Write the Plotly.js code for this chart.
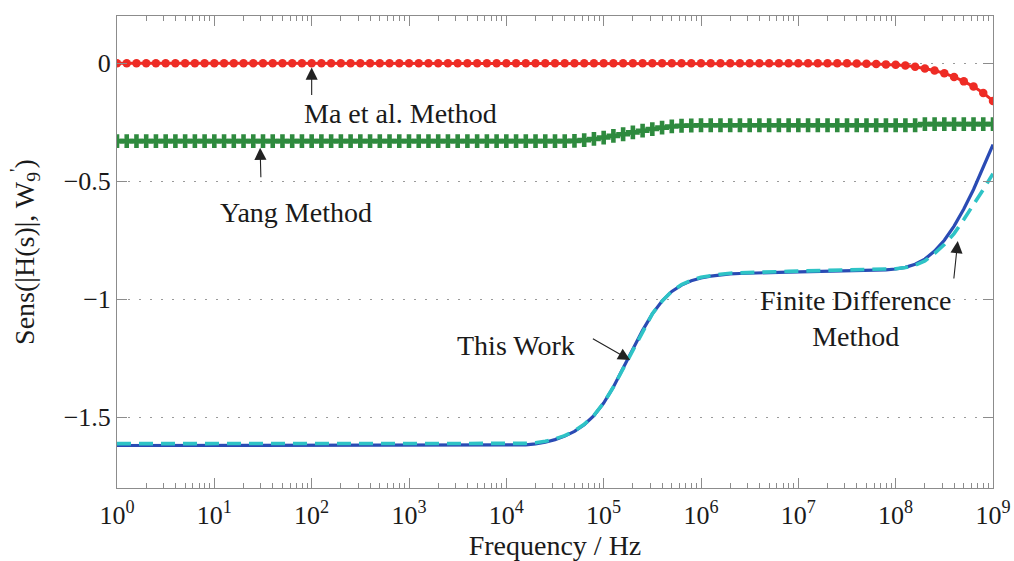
<!DOCTYPE html>
<html>
<head>
<meta charset="utf-8">
<script src="https://cdn.plot.ly/plotly-3.0.1.min.js"></script>
<style>
  html, body { margin: 0; padding: 0; background: #ffffff; }
  #chart { width: 1014px; height: 561px; }
</style>
</head>
<body>
<div id="chart"></div>
<script>
// Frequency grid, as decade exponents (f = 10^exp Hz), ten points per decade
const freqExp = [
  0.0, 0.1, 0.2, 0.3, 0.4, 0.5, 0.6, 0.7, 0.8, 0.9,
  1.0, 1.1, 1.2, 1.3, 1.4, 1.5, 1.6, 1.7, 1.8, 1.9,
  2.0, 2.1, 2.2, 2.3, 2.4, 2.5, 2.6, 2.7, 2.8, 2.9,
  3.0, 3.1, 3.2, 3.3, 3.4, 3.5, 3.6, 3.7, 3.8, 3.9,
  4.0, 4.1, 4.2, 4.3, 4.4, 4.5, 4.6, 4.7, 4.8, 4.9,
  5.0, 5.1, 5.2, 5.3, 5.4, 5.5, 5.6, 5.7, 5.8, 5.9,
  6.0, 6.1, 6.2, 6.3, 6.4, 6.5, 6.6, 6.7, 6.8, 6.9,
  7.0, 7.1, 7.2, 7.3, 7.4, 7.5, 7.6, 7.7, 7.8, 7.9,
  8.0, 8.1, 8.2, 8.3, 8.4, 8.5, 8.6, 8.7, 8.8, 8.9,
  9.0
];

// Ma et al. method
const sensMa = [
  0, 0, 0, 0, 0, 0, 0, 0, 0, 0,
  0, 0, 0, 0, 0, 0, 0, 0, 0, 0,
  0, 0, 0, 0, 0, 0, 0, 0, 0, 0,
  0, 0, 0, 0, 0, 0, 0, 0, 0, 0,
  0, 0, 0, 0, 0, 0, 0, 0, 0, 0,
  0, 0, 0, 0, 0, 0, 0, 0, 0, 0,
  0, 0, 0, 0, 0, 0, 0, 0, 0, 0,
  0, 0, 0, 0, 0, 0, -0.001, -0.002, -0.003, -0.005,
  -0.007, -0.010, -0.015, -0.022, -0.031, -0.043, -0.058, -0.077, -0.099, -0.126,
  -0.160
];

// Yang method
const sensYang = [
  -0.330, -0.330, -0.330, -0.330, -0.330, -0.330, -0.330, -0.330, -0.330, -0.330,
  -0.330, -0.330, -0.330, -0.330, -0.330, -0.330, -0.330, -0.330, -0.330, -0.330,
  -0.330, -0.330, -0.330, -0.330, -0.330, -0.330, -0.330, -0.330, -0.330, -0.330,
  -0.330, -0.330, -0.330, -0.330, -0.330, -0.330, -0.330, -0.330, -0.330, -0.330,
  -0.330, -0.330, -0.330, -0.330, -0.330, -0.330, -0.330, -0.329, -0.326, -0.321,
  -0.315, -0.308, -0.301, -0.293, -0.286, -0.279, -0.273, -0.268, -0.265, -0.264,
  -0.263, -0.263, -0.263, -0.263, -0.263, -0.263, -0.263, -0.263, -0.263, -0.263,
  -0.263, -0.263, -0.263, -0.263, -0.263, -0.263, -0.263, -0.263, -0.263, -0.263,
  -0.263, -0.263, -0.263, -0.258, -0.258, -0.258, -0.258, -0.258, -0.258, -0.258,
  -0.258
];

// This work
const sensThisWork = [
  -1.620, -1.620, -1.620, -1.620, -1.620, -1.620, -1.620, -1.620, -1.620, -1.620,
  -1.620, -1.620, -1.620, -1.620, -1.620, -1.620, -1.620, -1.620, -1.620, -1.620,
  -1.620, -1.620, -1.620, -1.620, -1.620, -1.620, -1.620, -1.620, -1.620, -1.620,
  -1.620, -1.620, -1.620, -1.620, -1.620, -1.620, -1.620, -1.620, -1.620, -1.620,
  -1.620, -1.619, -1.617, -1.613, -1.606, -1.595, -1.580, -1.560, -1.532, -1.493,
  -1.440, -1.372, -1.294, -1.212, -1.132, -1.062, -1.008, -0.967, -0.940, -0.922,
  -0.910, -0.902, -0.897, -0.893, -0.891, -0.889, -0.888, -0.887, -0.886, -0.885,
  -0.884, -0.884, -0.883, -0.883, -0.882, -0.882, -0.881, -0.880, -0.878, -0.876,
  -0.872, -0.865, -0.852, -0.830, -0.796, -0.750, -0.690, -0.618, -0.535, -0.443,
  -0.345
];

// Finite difference method
const sensFiniteDiff = [
  -1.612, -1.612, -1.612, -1.612, -1.612, -1.612, -1.612, -1.612, -1.612, -1.612,
  -1.612, -1.612, -1.612, -1.612, -1.612, -1.612, -1.612, -1.612, -1.612, -1.612,
  -1.612, -1.612, -1.612, -1.612, -1.612, -1.612, -1.612, -1.612, -1.612, -1.612,
  -1.612, -1.612, -1.612, -1.612, -1.612, -1.612, -1.612, -1.612, -1.612, -1.612,
  -1.612, -1.612, -1.611, -1.608, -1.602, -1.592, -1.578, -1.558, -1.530, -1.492,
  -1.440, -1.372, -1.294, -1.212, -1.132, -1.062, -1.008, -0.966, -0.938, -0.920,
  -0.907, -0.899, -0.894, -0.890, -0.888, -0.886, -0.885, -0.884, -0.883, -0.882,
  -0.881, -0.881, -0.880, -0.880, -0.879, -0.879, -0.878, -0.877, -0.876, -0.874,
  -0.871, -0.866, -0.856, -0.838, -0.806, -0.768, -0.722, -0.662, -0.600, -0.535,
  -0.468
];

// Axis ticks
const xTickExp = [0, 1, 2, 3, 4, 5, 6, 7, 8, 9];
const xTickText = xTickExp.map(e => '10<sup>' + e + '</sup>');
const yTickVals = [0, -0.5, -1, -1.5];
const yTickText = ['0', '\u22120.5', '\u22121', '\u22121.5'];

const freqHz = freqExp.map(e => Math.pow(10, e));
const xTickVals = xTickExp.map(e => Math.pow(10, e));
const xMinorVals = [];
for (let d = 0; d < 9; d++) {
  for (let m = 2; m <= 9; m++) xMinorVals.push(m * Math.pow(10, d));
}

const serif = '"Liberation Serif", "Times New Roman", Times, serif';
const ink = '#1a1a1a';
const axisGray = '#8c8c8c';

const traces = [
  {
    x: freqHz, y: sensThisWork, type: 'scatter', mode: 'lines', name: 'This Work',
    line: { color: '#2a4bb4', width: 3.2 }
  },
  {
    x: freqHz, y: sensFiniteDiff, type: 'scatter', mode: 'lines', name: 'Finite Difference Method',
    line: { color: '#2ec3c6', width: 3.6, dash: '14px,8px' }
  },
  {
    x: freqHz, y: sensYang, type: 'scatter', mode: 'lines+markers', name: 'Yang Method',
    line: { color: '#2e8a3e', width: 3 },
    marker: { symbol: 'cross', size: 11.5, color: '#2e8a3e' }
  },
  {
    x: freqHz, y: sensMa, type: 'scatter', mode: 'lines+markers', name: 'Ma et al. Method',
    line: { color: '#ee2c25', width: 3 },
    marker: { symbol: 'circle', size: 8.5, color: '#ee2c25' }
  }
];

function label(text, xe, y) {
  return {
    x: xe, y: y, xref: 'x', yref: 'y', text: text, showarrow: false,
    font: { family: serif, size: 28, color: ink }, align: 'center'
  };
}
function pointer(xe, y, ax, ay) {
  return {
    x: xe, y: y, xref: 'x', yref: 'y', text: ' ', showarrow: true,
    ax: ax, ay: ay, arrowhead: 2, arrowsize: 2.2, arrowwidth: 1.1,
    arrowcolor: '#222222', standoff: 2
  };
}

const annotations = [
  label('Ma et al. Method', 2.91, -0.215),
  pointer(2.0, -0.01, 0, 38),
  label('Yang Method', 1.84, -0.634),
  pointer(1.47, -0.35, 1, 40),
  label('This Work', 4.10, -1.196),
  pointer(5.29, -1.262, -42, -24),
  label('Finite Difference<br>Method', 7.59, -1.082),
  pointer(8.64, -0.745, -5, 48)
];

const layout = {
  width: 1014, height: 561,
  margin: { l: 117, r: 21, t: 16, b: 73 },
  paper_bgcolor: '#ffffff', plot_bgcolor: '#ffffff',
  showlegend: false,
  font: { family: serif, color: ink },
  xaxis: {
    type: 'log', range: [0, 9],
    tickmode: 'array', tickvals: xTickVals, ticktext: xTickText,
    ticks: 'inside', ticklen: 10, tickwidth: 1, tickcolor: axisGray,
    ticklabelstandoff: 4,
    minor: { tickmode: 'array', tickvals: xMinorVals, ticks: 'inside', ticklen: 5, tickcolor: axisGray, showgrid: false },
    showline: true, linecolor: axisGray, linewidth: 1, mirror: 'ticks',
    showgrid: false, zeroline: false,
    tickfont: { family: serif, size: 26, color: ink },
    title: { text: 'Frequency / Hz', font: { family: serif, size: 28, color: ink }, standoff: 8 },
    automargin: false
  },
  yaxis: {
    range: [-1.8, 0.2],
    tickmode: 'array', tickvals: yTickVals, ticktext: yTickText,
    ticks: 'inside', ticklen: 10, tickwidth: 1, tickcolor: axisGray,
    showline: true, linecolor: axisGray, linewidth: 1, mirror: 'ticks',
    showgrid: true, gridcolor: '#9a9a9a', gridwidth: 1, griddash: '2px,9px',
    zeroline: false,
    tickfont: { family: serif, size: 26, color: ink },
    title: { text: "Sens(|H(s)|, W<sub>9</sub><sup>'</sup>)", font: { family: serif, size: 28, color: ink }, standoff: 20 },
    automargin: false
  },
  annotations: annotations
};

Plotly.newPlot('chart', traces, layout, { staticPlot: true, displayModeBar: false });
</script>
</body>
</html>
